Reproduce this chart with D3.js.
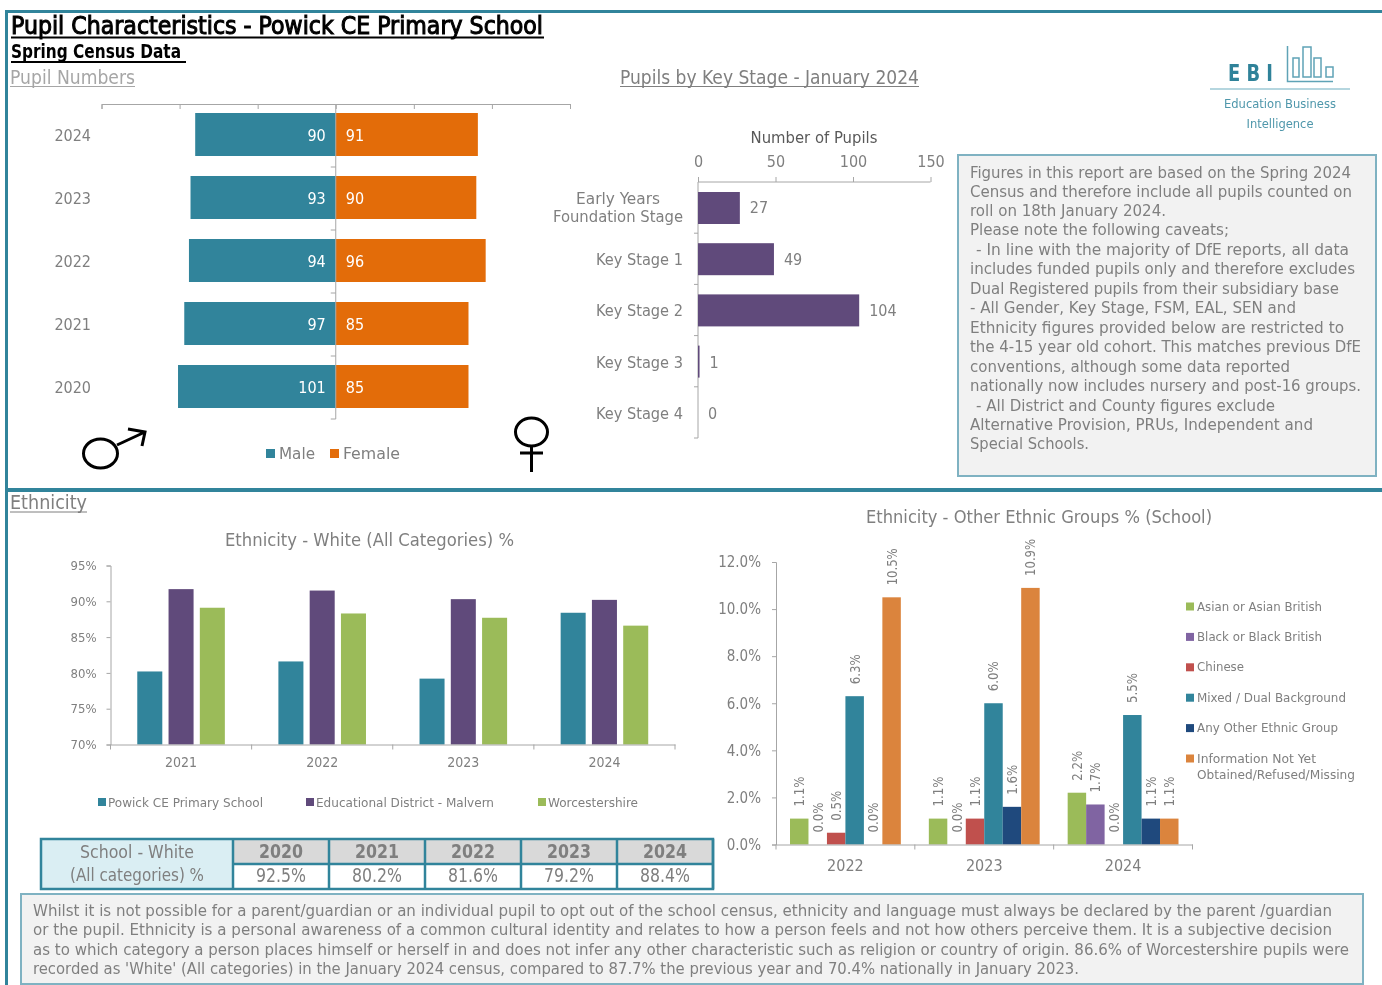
<!DOCTYPE html>
<html>
<head>
<meta charset="utf-8">
<script src="https://cdn.jsdelivr.net/npm/d3@7"></script>
<style>
  html, body { margin: 0; padding: 0; background: #fff; }
  svg { display: block; filter: blur(0.4px); }
  text { font-family: "DejaVu Sans", sans-serif; font-stretch: condensed; fill: #7f7f7f; }
  .domain, .tick line { stroke: #a6a6a6; }
</style>
</head>
<body>
<div id="chart"></div>
<script>
// pupil numbers
const years = ["2024", "2023", "2022", "2021", "2020"];
const male = [90, 93, 94, 97, 101];
const female = [91, 90, 96, 85, 85];

// key stage
const stages = ["Early Years|Foundation Stage", "Key Stage 1", "Key Stage 2", "Key Stage 3", "Key Stage 4"];
const stageValues = [27, 49, 104, 1, 0];

// white %
const whiteYears = ["2021", "2022", "2023", "2024"];
const whiteSeries = ["Powick CE Primary School", "Educational District - Malvern", "Worcestershire"];
const whiteSchool = [80.2, 81.6, 79.2, 88.4];
const whiteDistrict = [91.7, 91.5, 90.3, 90.2];
const whiteCounty = [89.1, 88.3, 87.7, 86.6];

// other groups %
const otherYears = ["2022", "2023", "2024"];
const otherGroups = ["Asian or Asian British", "Black or Black British", "Chinese", "Mixed / Dual Background", "Any Other Ethnic Group", "Information Not Yet|Obtained/Refused/Missing"];
const asian = [1.1, 1.1, 2.2];
const black = [0, 0, 1.7];
const chinese = [0.5, 1.1, 0];
const mixed = [6.3, 6.0, 5.5];
const anyOther = [0, 1.6, 1.1];
const info = [10.5, 10.9, 1.1];

// table
const tableYears = ["2020", "2021", "2022", "2023", "2024"];
const tableValues = ["92.5%", "80.2%", "81.6%", "79.2%", "88.4%"];

const caveats = [
  ["Figures in this report are based on the Spring 2024", 970, 1351],
  ["Census and therefore include all pupils counted on", 970, 1352],
  ["roll on 18th January 2024.", 970, 1166],
  ["Please note the following caveats;", 970, 1229],
  ["- In line with the majority of DfE reports, all data", 976, 1349],
  ["includes funded pupils only and therefore excludes", 970, 1355],
  ["Dual Registered pupils from their subsidiary base", 970, 1339],
  ["- All Gender, Key Stage, FSM, EAL, SEN and", 970, 1296],
  ["Ethnicity figures provided below are restricted to", 970, 1344],
  ["the 4-15 year old cohort. This matches previous DfE", 970, 1361],
  ["conventions, although some data reported", 970, 1290],
  ["nationally now includes nursery and post-16 groups.", 970, 1361],
  ["- All District and County figures exclude", 976, 1275],
  ["Alternative Provision, PRUs, Independent and", 970, 1313],
  ["Special Schools.", 970, 1089]
];
const note = [
  ["Whilst it is not possible for a parent/guardian or an individual pupil to opt out of the school census, ethnicity and language must always be declared by the parent /guardian", 1332],
  ["or the pupil. Ethnicity is a personal awareness of a common cultural identity and relates to how a person feels and not how others perceive them. It is a subjective decision", 1332],
  ["as to which category a person places himself or herself in and does not infer any other characteristic such as religion or country of origin. 86.6% of Worcestershire pupils were", 1349],
  ["recorded as 'White' (All categories) in the January 2024 census, compared to 87.7% the previous year and 70.4% nationally in January 2023.", 1079]
];

const teal = "#31849b", orange = "#e36c09", purple = "#604a7b", green = "#9bbb59";
const otherColors = [green, "#8064a2", "#c0504d", teal, "#1f497d", "#db843d"];

const svg = d3.select("#chart").append("svg").attr("width", 1382).attr("height", 985);

// text helper, stretches to the width
function label(x, y, str, size, opts = {}) {
  const t = svg.append("text").attr("x", x).attr("y", y)
    .style("font-size", size + "px")
    .style("fill", opts.fill || "#7f7f7f")
    .style("font-weight", opts.bold ? "bold" : "normal")
    .attr("text-anchor", opts.anchor || "start")
    .text(str);
  if (opts.w) t.attr("textLength", opts.w).attr("lengthAdjust", "spacingAndGlyphs");
  return t;
}
function rule(x1, x2, y, color, w) {
  svg.append("line").attr("x1", x1).attr("x2", x2).attr("y1", y).attr("y2", y)
    .attr("stroke", color).attr("stroke-width", w);
}

// frame
svg.append("rect").attr("x", 5).attr("y", 10).attr("width", 1377).attr("height", 3).attr("fill", teal);
svg.append("rect").attr("x", 5).attr("y", 10).attr("width", 3).attr("height", 975).attr("fill", teal);
svg.append("rect").attr("x", 5).attr("y", 488).attr("width", 1377).attr("height", 4).attr("fill", teal);

// headings
label(11, 34, "Pupil Characteristics - Powick CE Primary School", 25, { fill: "#000", w: 532 })
  .style("stroke", "#000").style("stroke-width", 1);
rule(11, 544, 37.5, "#000", 2);
label(11, 58, "Spring Census Data", 19, { fill: "#000", bold: true, w: 170 });
rule(11, 186, 62, "#000", 2);
label(10, 84, "Pupil Numbers", 20, { fill: "#a6a6a6", w: 125 });
rule(10, 135, 86.5, "#a6a6a6", 1);
label(620, 84, "Pupils by Key Stage - January 2024", 20, { w: 299 });
rule(620, 919, 86.5, "#7f7f7f", 1);
label(10, 509, "Ethnicity", 20, { w: 77 });
rule(10, 87, 512, "#7f7f7f", 1);

// ---- pyramid
const px = d3.scaleLinear().domain([-150, 150]).range([101.5, 570]);
const py = d3.scaleBand().domain(years).range([104, 419]);
svg.append("g").attr("transform", "translate(0,104)")
  .call(d3.axisTop(px).tickValues(d3.range(-150, 151, 50)).tickSize(-5).tickSizeOuter(-5).tickFormat(""));
const pBars = svg.append("g");
pBars.selectAll("rect.m").data(years).enter().append("rect").attr("class", "m")
  .attr("x", (d, i) => px(-male[i])).attr("y", d => py(d) + 9)
  .attr("width", (d, i) => px(0) - px(-male[i])).attr("height", 43).attr("fill", teal);
pBars.selectAll("rect.f").data(years).enter().append("rect").attr("class", "f")
  .attr("x", px(0)).attr("y", d => py(d) + 9)
  .attr("width", (d, i) => px(female[i]) - px(0)).attr("height", 43).attr("fill", orange);
pBars.selectAll("text.m").data(years).enter().append("text").attr("class", "m")
  .attr("x", px(0) - 10).attr("y", d => py(d) + 37).attr("text-anchor", "end")
  .style("font-size", "16px").style("fill", "#fff").text((d, i) => male[i]);
pBars.selectAll("text.f").data(years).enter().append("text").attr("class", "f")
  .attr("x", px(0) + 10).attr("y", d => py(d) + 37)
  .style("font-size", "16px").style("fill", "#fff").text((d, i) => female[i]);
pBars.selectAll("text.y").data(years).enter().append("text").attr("class", "y")
  .attr("x", 91).attr("y", d => py(d) + 36.5).attr("text-anchor", "end")
  .style("font-size", "16px").text(d => d);
// centre axis with ticks between the years
const pAxis = svg.append("g").attr("transform", `translate(${px(0)},0)`);
pAxis.append("line").attr("y1", 104).attr("y2", 419).attr("stroke", "#a6a6a6");
pAxis.selectAll("line.t").data(years).enter().append("line").attr("class", "t")
  .attr("x1", -5).attr("x2", 0).attr("y1", d => py(d) + py.step()).attr("y2", d => py(d) + py.step())
  .attr("stroke", "#a6a6a6");
// legend
svg.append("rect").attr("x", 266).attr("y", 449).attr("width", 9).attr("height", 9).attr("fill", teal);
label(279, 459, "Male", 16, { w: 36 });
svg.append("rect").attr("x", 330).attr("y", 449).attr("width", 9).attr("height", 9).attr("fill", orange);
label(343, 459, "Female", 16, { w: 57 });
// gender symbols
const sym = svg.append("g").attr("fill", "none").attr("stroke", "#000").attr("stroke-width", 3);
sym.append("ellipse").attr("cx", 100.5).attr("cy", 453.5).attr("rx", 17).attr("ry", 14.5);
sym.append("path").attr("d", "M117 445L145 432M128 429L145 432L142 446");
sym.append("ellipse").attr("cx", 531.5).attr("cy", 432).attr("rx", 16).attr("ry", 14);
sym.append("path").attr("d", "M531.5 446V472M520 453H543");

// ---- key stage
const kx = d3.scaleLinear().domain([0, 150]).range([698, 930.5]);
const ky = d3.scaleBand().domain(stages).range([182, 438]);
label(814, 143, "Number of Pupils", 16.5, { anchor: "middle", fill: "#595959" });
const kTop = svg.append("g").attr("transform", "translate(0,182)")
  .call(d3.axisTop(kx).tickValues([0, 50, 100, 150]).tickSizeOuter(0).tickSize(5).tickPadding(10));
kTop.selectAll("text").style("font-size", "16px").style("fill", "#7f7f7f");
kTop.select(".domain").attr("d", `M${kx(0)},0H${kx(150)}`);
const kLeft = svg.append("g").attr("transform", `translate(${kx(0)},0)`);
kLeft.append("line").attr("y1", 182).attr("y2", 438).attr("stroke", "#a6a6a6");
kLeft.selectAll("line.t").data(stages).enter().append("line").attr("class", "t")
  .attr("x1", -4).attr("x2", 0).attr("y1", d => ky(d) + ky.step()).attr("y2", d => ky(d) + ky.step())
  .attr("stroke", "#a6a6a6");
svg.append("g").selectAll("rect").data(stages).enter().append("rect")
  .attr("x", kx(0)).attr("y", d => ky(d) + 10)
  .attr("width", (d, i) => kx(stageValues[i]) - kx(0)).attr("height", 32).attr("fill", purple);
stages.forEach((s, i) => {
  const cy = ky(s) + 32;
  if (s.includes("|")) {
    const parts = s.split("|");
    label(618, cy - 10, parts[0], 16, { anchor: "middle", w: 84 });
    label(618, cy + 8, parts[1], 16, { anchor: "middle", w: 130 });
    label(kx(stageValues[i]) + 10, cy - 1, stageValues[i], 16);
  } else {
    label(683, cy, s, 16, { anchor: "end", w: 87 });
    label(kx(stageValues[i]) + 10, cy, stageValues[i], 16);
  }
});

// ---- caveats box
svg.append("rect").attr("x", 958).attr("y", 155).attr("width", 418).attr("height", 321)
  .attr("fill", "#f2f2f2").attr("stroke", "#7fb2c2").attr("stroke-width", 2);
const lineY = [177.5, 196.5, 215.5, 235, 254.5, 274, 293.5, 313, 332.5, 352, 371.5, 391, 410.5, 430, 449];
caveats.forEach((l, i) => label(l[1], lineY[i], l[0], 16.5, { w: l[2] - l[1] }));

// ---- logo
label(1228, 81, "E B I", 23, { fill: "#2f8299", bold: true, w: 45 });
const logo = svg.append("g").attr("fill", "none").attr("stroke", "#5fa3b6").attr("stroke-width", 1.5);
logo.append("path").attr("d", "M1287.5 46V81.5H1333");
logo.append("rect").attr("x", 1293).attr("y", 58).attr("width", 6).attr("height", 19);
logo.append("rect").attr("x", 1303).attr("y", 47).attr("width", 8).attr("height", 30);
logo.append("rect").attr("x", 1314).attr("y", 58).attr("width", 7).attr("height", 19);
logo.append("rect").attr("x", 1326).attr("y", 67).attr("width", 7).attr("height", 10);
rule(1210, 1350, 89, "#9cc8d4", 1.5);
label(1280, 108, "Education Business", 13, { fill: "#4f97ab", anchor: "middle", w: 112 });
label(1280, 128, "Intelligence", 13, { fill: "#4f97ab", anchor: "middle", w: 67 });

// ---- white chart
label(225, 546, "Ethnicity - White (All Categories) %", 18, { w: 289 });
const wx = d3.scaleBand().domain(whiteYears).range([110.5, 675]);
const wInner = d3.scaleBand().domain(whiteSeries).range([0, wx.bandwidth()]).paddingInner(0.2).paddingOuter(0.856);
const wy = d3.scaleLinear().domain([70, 95]).range([744.5, 565.5]);
const whiteVals = [whiteSchool, whiteDistrict, whiteCounty];
const whiteCols = [teal, purple, green];
whiteSeries.forEach((s, si) => {
  svg.append("g").selectAll("rect").data(whiteYears).enter().append("rect")
    .attr("x", d => wx(d) + wInner(s)).attr("width", wInner.bandwidth())
    .attr("y", (d, i) => wy(whiteVals[si][i]))
    .attr("height", (d, i) => wy(70) - wy(whiteVals[si][i]))
    .attr("fill", whiteCols[si]);
});
const wyAxis = svg.append("g").attr("transform", "translate(110.5,0)")
  .call(d3.axisLeft(wy).tickValues(d3.range(70, 96, 5)).tickFormat(d => d + "%").tickSize(4).tickSizeOuter(4).tickPadding(10));
wyAxis.selectAll("text").style("font-size", "13px");
const wxAxis = svg.append("g").attr("transform", "translate(0,744.5)")
  .call(d3.axisBottom(wx).tickSize(0).tickPadding(13));
wxAxis.selectAll("text").style("font-size", "14px");
wxAxis.selectAll("line.t").data(whiteYears.concat("end")).enter().append("line").attr("class", "t")
  .attr("x1", (d, i) => wx.range()[0] + i * wx.step()).attr("x2", (d, i) => wx.range()[0] + i * wx.step())
  .attr("y1", 0).attr("y2", 5).attr("stroke", "#a6a6a6");
const whiteLegendX = [98, 306, 538];
const whiteLegendW = [155, 178, 90];
whiteSeries.forEach((s, i) => {
  svg.append("rect").attr("x", whiteLegendX[i]).attr("y", 798).attr("width", 8).attr("height", 8).attr("fill", whiteCols[i]);
  label(whiteLegendX[i] + 10, 806.5, s, 13, { w: whiteLegendW[i] });
});

// ---- other groups chart
label(866, 523, "Ethnicity - Other Ethnic Groups % (School)", 18, { w: 346 });
const ox = d3.scaleBand().domain(otherYears).range([776, 1192.5]);
const oInner = d3.scaleBand().domain(otherGroups).range([14, ox.bandwidth() - 14]);
const oy = d3.scaleLinear().domain([0, 12]).range([844.5, 562]);
const otherVals = [asian, black, chinese, mixed, anyOther, info];
otherGroups.forEach((g, gi) => {
  const gg = svg.append("g");
  gg.selectAll("rect").data(otherYears).enter().append("rect")
    .attr("x", d => ox(d) + oInner(g)).attr("width", oInner.bandwidth())
    .attr("y", (d, i) => oy(otherVals[gi][i]))
    .attr("height", (d, i) => oy(0) - oy(otherVals[gi][i]))
    .attr("fill", otherColors[gi]);
  gg.selectAll("text").data(otherYears).enter().append("text")
    .attr("transform", (d, i) => `translate(${ox(d) + oInner(g) + oInner.bandwidth() / 2 + 5},${oy(otherVals[gi][i]) - 12}) rotate(-90)`)
    .attr("textLength", 37).attr("lengthAdjust", "spacingAndGlyphs")
    .style("font-size", "14px")
    .text((d, i) => otherVals[gi][i].toFixed(1) + "%")
    .attr("textLength", (d, i) => otherVals[gi][i] >= 10 ? 37 : 30);
});
const oyAxis = svg.append("g").attr("transform", "translate(776,0)")
  .call(d3.axisLeft(oy).tickValues(d3.range(0, 13, 2)).tickFormat(d => d.toFixed(1) + "%").tickSize(4).tickSizeOuter(4).tickPadding(11));
oyAxis.selectAll("text").style("font-size", "15px");
const oxAxis = svg.append("g").attr("transform", "translate(0,844.5)")
  .call(d3.axisBottom(ox).tickSize(0).tickPadding(15));
oxAxis.selectAll("text").style("font-size", "16px");
oxAxis.selectAll("line.t").data(otherYears.concat("end")).enter().append("line").attr("class", "t")
  .attr("x1", (d, i) => ox.range()[0] + i * ox.step()).attr("x2", (d, i) => ox.range()[0] + i * ox.step())
  .attr("y1", 0).attr("y2", 5).attr("stroke", "#a6a6a6");
const otherLegendW = [125, 125, 47, 149, 141, 119, 158];
let legendLine = 0;
otherGroups.forEach((g, i) => {
  const ly = 610.5 + i * 30.4;
  svg.append("rect").attr("x", 1186).attr("y", ly - 8).attr("width", 8).attr("height", 8).attr("fill", otherColors[i]);
  g.split("|").forEach((part, j) => label(1197, ly + j * 16, part, 13, { w: otherLegendW[legendLine++] }));
});

// ---- table
const tx = d3.scaleBand().domain(tableYears).range([233, 713]);
svg.append("rect").attr("x", 41).attr("y", 839).attr("width", 192).attr("height", 50).attr("fill", "#daeef3");
svg.append("g").selectAll("rect").data(tableYears).enter().append("rect")
  .attr("x", d => tx(d)).attr("y", 839).attr("width", tx.bandwidth()).attr("height", 25).attr("fill", "#d9d9d9");
svg.append("rect").attr("x", 41).attr("y", 839).attr("width", 672).attr("height", 50)
  .attr("fill", "none").attr("stroke", teal).attr("stroke-width", 2.5);
rule(233, 713, 864, teal, 2.5);
tableYears.concat("end").forEach((d, i) => {
  const xp = 233 + i * tx.step();
  svg.append("line").attr("x1", xp).attr("x2", xp).attr("y1", 839).attr("y2", 889).attr("stroke", teal).attr("stroke-width", 2.5);
});
label(137, 858, "School - White", 17, { anchor: "middle", w: 114 });
label(137, 881, "(All categories) %", 17, { anchor: "middle", w: 134 });
tableYears.forEach((d, i) => {
  label(tx(d) + tx.bandwidth() / 2, 858, d, 20, { anchor: "middle", bold: true, w: 44 });
  label(tx(d) + tx.bandwidth() / 2, 882, tableValues[i], 20, { anchor: "middle", w: 50 });
});

// ---- bottom note
svg.append("rect").attr("x", 21).attr("y", 894).attr("width", 1342).attr("height", 90)
  .attr("fill", "#f2f2f2").attr("stroke", "#7fb2c2").attr("stroke-width", 2);
const noteY = [916, 935, 955, 974];
note.forEach((l, i) => label(33, noteY[i], l[0], 16.5, { w: l[1] - 33 }));
</script>
</body>
</html>
